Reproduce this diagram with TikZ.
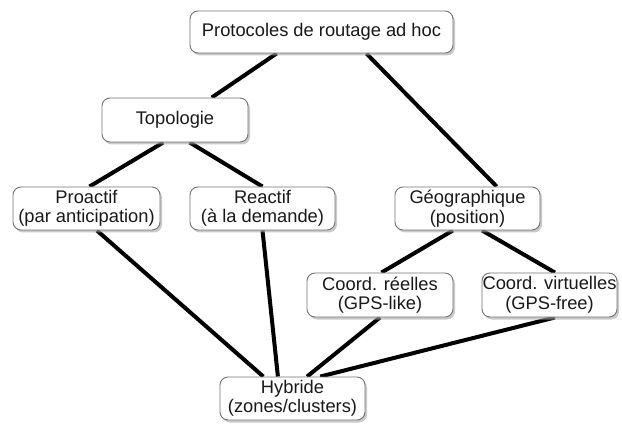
\documentclass[tikz,border=0pt]{standalone}
\usepackage{fontspec}
\setmainfont{Liberation Sans}
\usetikzlibrary{calc,shadows,backgrounds}
\begin{document}
\begin{tikzpicture}[x=1pt,y=-1pt,
  box/.style={draw=black!55, line width=0.9pt, fill=white, rounded corners=8pt,
    align=center, inner sep=0pt, text=black!90,
    font=\fontsize{18.3}{19.5}\selectfont,
    drop shadow={shadow xshift=2pt, shadow yshift=-2.5pt, fill=black!35, opacity=0.6}},
  link/.style={line width=4pt, black}]
\useasboundingbox (0,0) rectangle (622,425);
\node[box, minimum width=263pt, minimum height=42pt] (top) at (321.5,32) {Protocoles de routage ad hoc};
\node[box, minimum width=146pt, minimum height=44pt] (topo) at (175,120) {Topologie};
\node[box, minimum width=147pt, minimum height=43pt] (pro) at (86.5,208.5) {Proactif\\(par anticipation)};
\node[box, minimum width=145pt, minimum height=43pt] (rea) at (262.5,208.5) {Reactif\\(à la demande)};
\node[box, minimum width=145pt, minimum height=43pt] (geo) at (467.5,208.5) {Géographique\\(position)};
\node[box, minimum width=146pt, minimum height=44pt] (cr) at (380,295) {Coord. réelles\\(GPS-like)};
\node[box, minimum width=135pt, minimum height=44pt] (cv) at (549.5,295) {Coord. virtuelles\\(GPS-free)};
\node[box, minimum width=145pt, minimum height=43pt] (hyb) at (292.5,398.5) {Hybride\\(zones/clusters)};
\begin{scope}[on background layer]
\draw[link] ($(top.south west)!0.33!(top.south east)$) -- ($(topo.north west)!0.75!(topo.north east)$);
\draw[link] ($(top.south west)!0.67!(top.south east)$) -- ($(geo.north west)!0.70!(geo.north east)$);
\draw[link] ($(topo.south west)!0.42!(topo.south east)$) -- ($(pro.north west)!0.52!(pro.north east)$);
\draw[link] ($(topo.south west)!0.60!(topo.south east)$) -- ($(rea.north west)!0.50!(rea.north east)$);
\draw[link] ($(geo.south west)!0.40!(geo.south east)$) -- ($(cr.north west)!0.51!(cr.north east)$);
\draw[link] ($(geo.south west)!0.60!(geo.south east)$) -- ($(cv.north west)!0.54!(cv.north east)$);
\draw[link] ($(pro.south west)!0.57!(pro.south east)$) -- ($(hyb.north west)!0.30!(hyb.north east)$);
\draw[link] ($(rea.south west)!0.50!(rea.south east)$) -- ($(hyb.north west)!0.40!(hyb.north east)$);
\draw[link] ($(cr.south west)!0.50!(cr.south east)$) -- ($(hyb.north west)!0.60!(hyb.north east)$);
\draw[link] ($(cv.south west)!0.54!(cv.south east)$) -- ($(hyb.north west)!0.69!(hyb.north east)$);
\end{scope}
\end{tikzpicture}
\end{document}
